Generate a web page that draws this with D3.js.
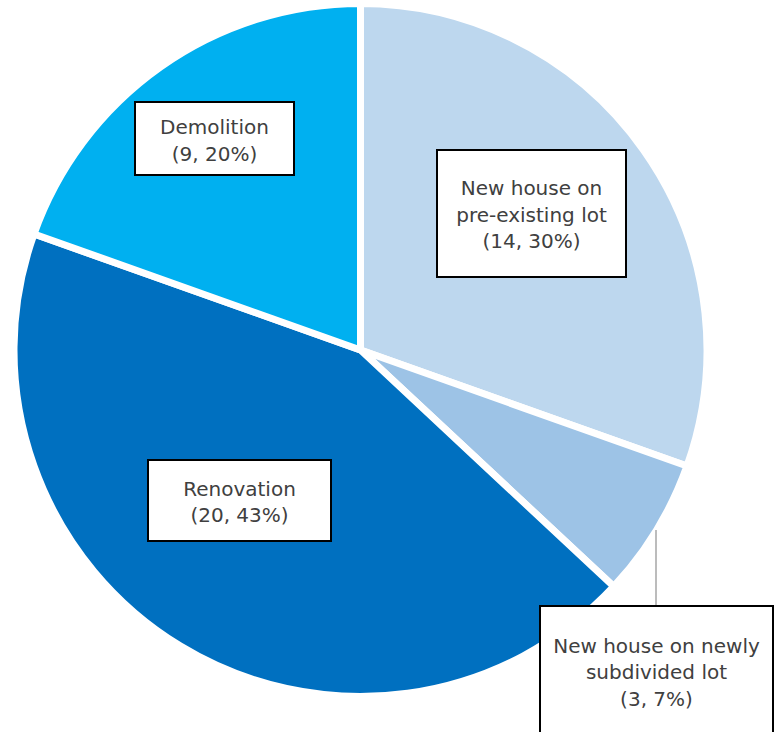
<!DOCTYPE html>
<html>
<head>
<meta charset="utf-8">
<script src="https://cdn.jsdelivr.net/npm/d3@7/dist/d3.min.js"></script>
<style>
  html, body { margin: 0; padding: 0; background: #ffffff; }
  svg { display: block; }
</style>
</head>
<body>
<svg id="chart" width="779" height="732"></svg>
<script>
// ---- Data ----
const categories = ["New house on pre-existing lot", "New house on newly subdivided lot", "Renovation", "Demolition"];
const counts = [14, 3, 20, 9];
const percentLabels = ["30%", "7%", "43%", "20%"];
const labelLines = [
  ["New house on", "pre-existing lot"],
  ["New house on newly", "subdivided lot"],
  ["Renovation"],
  ["Demolition"]
];
const colors = ["#BDD7EE", "#9DC3E6", "#0070C0", "#00B0F0"];

// ---- Layout (label boxes) ----
const boxes = [
  { x: 437, y: 150, w: 189, h: 127, firstBaseline: 195 },
  { x: 540, y: 606, w: 233, h: 140, firstBaseline: 652.5 },
  { x: 148, y: 460, w: 183, h: 81, firstBaseline: 495.5 },
  { x: 135, y: 102, w: 159, h: 73, firstBaseline: 134 }
];
const lineGap = 26.5;

const svg = d3.select("#chart");
const cx = 360.5, cy = 350, r = 346.5;

const pie = d3.pie().sort(null).value(d => d)(counts);
const arc = d3.arc().innerRadius(0).outerRadius(r);

const g = svg.append("g").attr("transform", `translate(${cx},${cy})`);
g.selectAll("path")
  .data(pie)
  .join("path")
  .attr("d", arc)
  .attr("fill", (d, i) => colors[i])
  .attr("stroke", "#ffffff")
  .attr("stroke-width", 7)
  .attr("stroke-linejoin", "miter");

// leader line for small slice
svg.append("line")
  .attr("x1", 656).attr("x2", 656)
  .attr("y1", 530).attr("y2", 606)
  .attr("stroke", "#A6A6A6")
  .attr("stroke-width", 1.5);

// label boxes
const lg = svg.append("g");
categories.forEach((c, i) => {
  const b = boxes[i];
  lg.append("rect")
    .attr("x", b.x).attr("y", b.y)
    .attr("width", b.w).attr("height", b.h)
    .attr("fill", "#ffffff")
    .attr("stroke", "#000000")
    .attr("stroke-width", 2);
  const lines = labelLines[i].concat([`(${counts[i]}, ${percentLabels[i]})`]);
  const t = lg.append("text")
    .attr("text-anchor", "middle")
    .attr("font-family", "'DejaVu Sans', sans-serif")
    .attr("font-size", 20)
    .attr("fill", "#404040");
  lines.forEach((ln, k) => {
    t.append("tspan")
      .attr("x", b.x + b.w / 2)
      .attr("y", b.firstBaseline + k * lineGap)
      .text(ln);
  });
});
</script>
</body>
</html>
